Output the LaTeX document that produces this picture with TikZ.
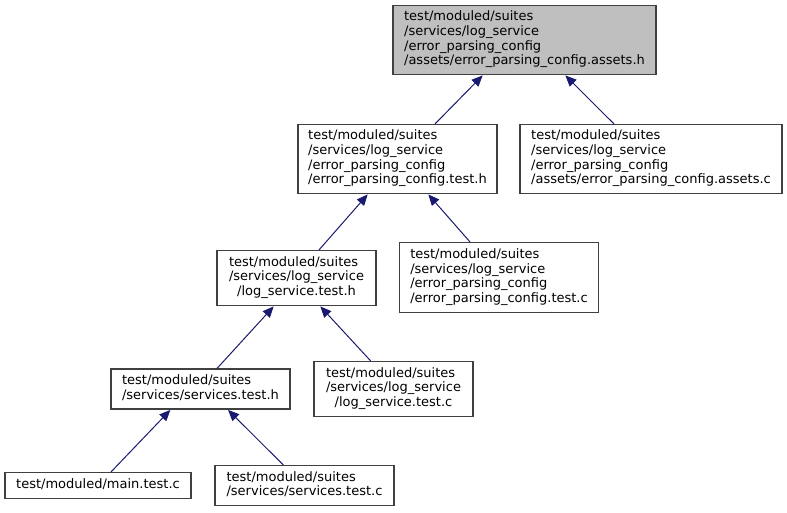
\documentclass[tikz,border=0pt]{standalone}
\usepackage{fontspec}
\setmainfont{DejaVu Sans}
\usetikzlibrary{arrows.meta}
\definecolor{edgeblue}{HTML}{191970}
\definecolor{boxline}{HTML}{404040}
\definecolor{topfill}{HTML}{BFBFBF}
\newcommand{\lbl}[1]{\begin{tabular}{@{}l@{}}#1\end{tabular}}
\newcommand{\lastc}[1]{\multicolumn{1}{@{}c@{}}{#1}}
\tikzset{
  filebox/.style={draw=boxline, line width=1.1pt, fill=white, rectangle, inner sep=0pt,
    font=\fontsize{13}{14.7}\selectfont, text=black},
  edge/.style={draw=edgeblue, line width=1pt, -{Triangle[length=11pt,width=9.5pt]}, shorten >=0.5pt}
}
\begin{document}
\begin{tikzpicture}[x=1pt,y=-1pt]
\useasboundingbox (0,0) rectangle (787,512);
\node[filebox, fill=topfill, minimum width=263pt, minimum height=69pt] (top) at (524.5,40)
  {\lbl{test/moduled/suites\\/services/log\_service\\/error\_parsing\_config\\\lastc{/assets/error\_parsing\_config.assets.h}}};
\node[filebox, minimum width=199pt, minimum height=69pt] (epth) at (397.5,159)
  {\lbl{test/moduled/suites\\/services/log\_service\\/error\_parsing\_config\\\lastc{/error\_parsing\_config.test.h}}};
\node[filebox, minimum width=262pt, minimum height=69pt] (assetsc) at (651,159)
  {\lbl{test/moduled/suites\\/services/log\_service\\/error\_parsing\_config\\\lastc{/assets/error\_parsing\_config.assets.c}}};
\node[filebox, minimum width=159pt, minimum height=55pt] (lsth) at (296.5,278)
  {\lbl{test/moduled/suites\\/services/log\_service\\\lastc{/log\_service.test.h}}};
\node[filebox, minimum width=199pt, minimum height=70pt] (eptc) at (499,277.5)
  {\lbl{test/moduled/suites\\/services/log\_service\\/error\_parsing\_config\\\lastc{/error\_parsing\_config.test.c}}};
\node[filebox, minimum width=179pt, minimum height=40pt] (sth) at (200.5,389)
  {\lbl{test/moduled/suites\\\lastc{/services/services.test.h}}};
\node[filebox, minimum width=159pt, minimum height=55pt] (lstc) at (393.5,389)
  {\lbl{test/moduled/suites\\/services/log\_service\\\lastc{/log\_service.test.c}}};
\node[filebox, minimum width=186pt, minimum height=26pt] (main) at (98,485.5)
  {\lbl{\lastc{test/moduled/main.test.c}}};
\node[filebox, minimum width=179pt, minimum height=40pt] (stc) at (304.5,485.5)
  {\lbl{test/moduled/suites\\\lastc{/services/services.test.c}}};

\draw[edge] ([xshift=37.5pt]epth.north) -- ([xshift=-41.5pt]top.south);
\draw[edge] ([xshift=-37pt]assetsc.north) -- ([xshift=40.5pt]top.south);
\draw[edge] ([xshift=22.5pt]lsth.north) -- ([xshift=-29.5pt]epth.south);
\draw[edge] ([xshift=-29pt]eptc.north) -- ([xshift=30.5pt]epth.south);
\draw[edge] ([xshift=16.5pt]sth.north) -- ([xshift=-22.5pt]lsth.south);
\draw[edge] ([xshift=-22.8pt]lstc.north) -- ([xshift=23.5pt]lsth.south);
\draw[edge] ([xshift=13pt]main.north) -- ([xshift=-29.8pt]sth.south);
\draw[edge] ([xshift=-21.2pt]stc.north) -- ([xshift=27.2pt]sth.south);
\end{tikzpicture}
\end{document}
